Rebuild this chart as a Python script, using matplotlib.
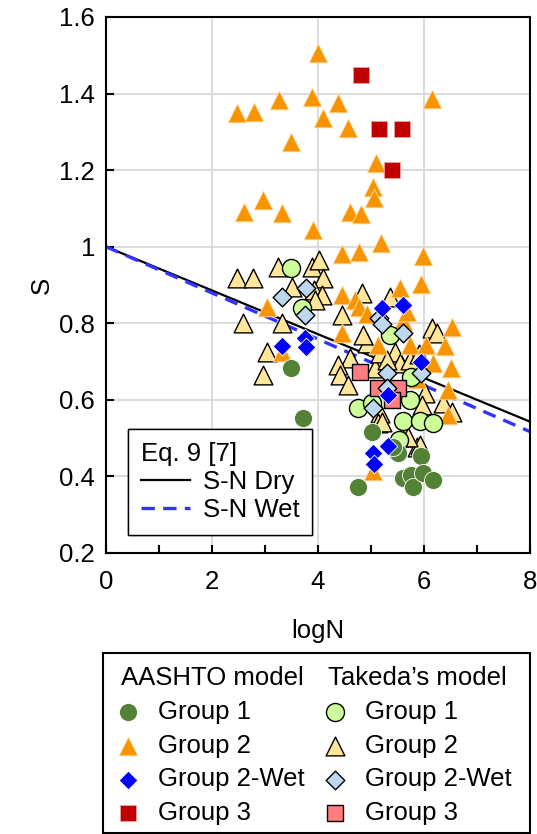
import matplotlib
matplotlib.use("Agg")
import matplotlib.pyplot as plt
from matplotlib.patches import Rectangle

plt.rcParams['font.family'] = ['Liberation Sans', 'DejaVu Sans']
FS = 18.5

# ---------------- data ----------------
a_g1_x = [3.49, 3.72, 5.02, 4.76, 5.51, 5.94, 5.60, 5.75, 5.80, 5.98, 6.17, 5.42]
a_g1_y = [0.683, 0.553, 0.517, 0.373, 0.460, 0.454, 0.396, 0.404, 0.373, 0.409, 0.391, 0.477]

a_g2_x = [4.00, 3.88, 4.37, 4.10, 4.57, 6.15, 2.47, 2.79, 3.26, 3.49,
          5.10, 5.04, 5.06, 4.60, 4.81, 2.60, 2.96, 3.32, 3.90,
          4.45, 4.78, 5.19, 5.98, 5.94, 5.55,
          3.04, 4.45, 4.70, 4.78, 4.92, 4.45, 5.13, 5.60, 5.67, 5.74,
          6.04, 6.53, 6.39, 6.17, 6.50, 6.45, 6.45, 5.87, 5.04, 3.32]
a_g2_y = [1.506, 1.390, 1.375, 1.336, 1.310, 1.386, 1.350, 1.352, 1.383, 1.274,
          1.218, 1.157, 1.128, 1.090, 1.085, 1.090, 1.122, 1.088, 1.044,
          0.980, 0.986, 1.010, 0.975, 0.902, 0.893,
          0.843, 0.874, 0.860, 0.843, 0.825, 0.775, 0.744, 0.805, 0.830, 0.744,
          0.744, 0.790, 0.740, 0.695, 0.682, 0.626, 0.561, 0.655, 0.415, 0.725]

a_g2w_x = [3.32, 3.75, 3.77, 5.20, 5.60, 5.33, 5.94, 5.32, 5.04, 5.05]
a_g2w_y = [0.741, 0.762, 0.737, 0.840, 0.848, 0.613, 0.700, 0.480, 0.461, 0.432]

a_g3_x = [4.81, 5.15, 5.59, 5.40]
a_g3_y = [1.449, 1.307, 1.307, 1.200]

t_g1_x = [3.49, 3.70, 4.76, 5.02, 5.74, 5.60, 5.92, 6.17, 5.53, 5.75, 5.36]
t_g1_y = [0.944, 0.840, 0.579, 0.592, 0.600, 0.545, 0.545, 0.540, 0.496, 0.660, 0.770]

t_g2_x = [2.47, 2.78, 3.25, 3.89, 4.02, 4.10, 3.50, 3.92, 2.58, 3.32, 3.04, 2.96,
          4.07, 3.95, 4.83, 5.36, 4.45, 6.15, 4.92, 5.45, 5.55, 5.74, 4.60, 4.38,
          4.42, 4.57, 5.08, 6.02, 5.96, 6.36, 6.53, 5.17, 5.13, 5.64, 5.87, 6.24,
          5.17, 5.20, 5.92, 5.70, 4.85, 5.30, 5.90]
t_g2_y = [0.918, 0.918, 0.947, 0.947, 0.965, 0.918, 0.895, 0.887, 0.800, 0.800, 0.725, 0.665,
          0.875, 0.860, 0.879, 0.869, 0.822, 0.788, 0.749, 0.725, 0.697, 0.705, 0.710, 0.690,
          0.665, 0.639, 0.683, 0.618, 0.587, 0.592, 0.568, 0.566, 0.540, 0.503, 0.477, 0.775,
          0.723, 0.543, 0.482, 0.503, 0.770, 0.705, 0.720]

t_g2w_x = [3.32, 3.77, 3.75, 5.15, 5.20, 5.60, 5.30, 5.30, 5.94, 5.04]
t_g2w_y = [0.869, 0.892, 0.822, 0.814, 0.797, 0.775, 0.670, 0.632, 0.670, 0.580]

t_g3_x = [4.80, 5.13, 5.50, 5.40]
t_g3_y = [0.673, 0.632, 0.632, 0.600]

line_x = [0, 8]
dry_y = [1.0, 0.543]
wet_y = [1.0, 0.517]

x_ticks = [0, 2, 4, 6, 8]
y_ticks = [0.2, 0.4, 0.6, 0.8, 1.0, 1.2, 1.4, 1.6]
y_labels = ['0.2', '0.4', '0.6', '0.8', '1', '1.2', '1.4', '1.6']

# ---------------- figure ----------------
fig = plt.figure(figsize=(5.37, 8.34), dpi=100)
ax = fig.add_axes([106/537, 1-553/834, (530-106)/537, (553-17)/834])

ax.set_xlim(0, 8)
ax.set_ylim(0.2, 1.6)
ax.grid(True, color='#d9d9d9', linewidth=1.3, zorder=0)
ax.set_axisbelow(True)

dry, = ax.plot(line_x, dry_y, color='black', linewidth=1.6, zorder=2, label='S-N Dry')
wet, = ax.plot(line_x, wet_y, color='#3333ff', linewidth=2.4, linestyle=(0, (4, 2.5)),
               zorder=2, label='S-N Wet')

TRI = 13.5**2
CIR = 13**2
DIA = 9.5**2
SQ = 11**2

h_t2 = ax.scatter(t_g2_x, t_g2_y, marker='^', s=TRI, c='#ffe699', edgecolors='black', linewidths=1.0, zorder=3)
h_a2 = ax.scatter(a_g2_x, a_g2_y, marker='^', s=TRI, c='#f79400', edgecolors='#ffe0b0', linewidths=0.6, zorder=4)
h_t1 = ax.scatter(t_g1_x, t_g1_y, marker='o', s=CIR, c='#ccff99', edgecolors='black', linewidths=1.0, zorder=5)
h_a1 = ax.scatter(a_g1_x, a_g1_y, marker='o', s=CIR, c='#538135', edgecolors='white', linewidths=0.6, zorder=6)
h_t3 = ax.scatter(t_g3_x, t_g3_y, marker='s', s=SQ, c='#ff7c80', edgecolors='black', linewidths=1.0, zorder=7)
h_t2w = ax.scatter(t_g2w_x, t_g2w_y, marker='D', s=DIA, c='#bdd7ee', edgecolors='black', linewidths=1.0, zorder=8)
h_a2w = ax.scatter(a_g2w_x, a_g2w_y, marker='D', s=DIA, c='#0000ff', edgecolors='white', linewidths=0.6, zorder=9)
h_a3 = ax.scatter(a_g3_x, a_g3_y, marker='s', s=SQ, c='#c00000', edgecolors='#f0a0a0', linewidths=0.6, zorder=10)

ax.set_xticks(x_ticks)
ax.set_xticks([1, 3, 5, 7], minor=True)
ax.set_yticks(y_ticks)
ax.set_yticklabels(y_labels)
ax.tick_params(axis='both', which='both', direction='in', length=6, width=1.5,
               labelsize=FS, pad=8)
ax.tick_params(axis='x', which='both', pad=12)
for sp in ax.spines.values():
    sp.set_linewidth(1.5)
    sp.set_color('black')

ax.set_xlabel('logN', fontsize=FS, labelpad=18)
ax.set_ylabel('S', fontsize=FS, labelpad=4)

leg_in = ax.legend(handles=[dry, wet], title='Eq. 9 [7]', loc='lower left',
                   bbox_to_anchor=(0.052, 0.034), fontsize=FS, title_fontsize=FS,
                   alignment='left', handlelength=1.9, handletextpad=0.5,
                   labelspacing=0.15, borderpad=0.5, borderaxespad=0,
                   fancybox=False, edgecolor='black', framealpha=1)
leg_in.get_frame().set_linewidth(1.0)
ax.add_artist(leg_in)

# bottom legend
fig.patches.append(Rectangle((103/537, 1/834), (530-103)/537, (833-653)/834,
                             transform=fig.transFigure, fill=False,
                             edgecolor='black', linewidth=1.5))
common = dict(loc='upper left', bbox_transform=fig.transFigure, frameon=False,
              fontsize=FS, title_fontsize=FS, alignment='left', handlelength=0.55,
              handletextpad=0.9, labelspacing=0.38, borderpad=0, borderaxespad=0,
              markerscale=1.0)
legA = fig.legend([h_a1, h_a2, h_a2w, h_a3], ['Group 1', 'Group 2', 'Group 2-Wet', 'Group 3'],
                  title='AASHTO model', bbox_to_anchor=(121/537, 1-666/834), **common)
legB = fig.legend([h_t1, h_t2, h_t2w, h_t3], ['Group 1', 'Group 2', 'Group 2-Wet', 'Group 3'],
                  title='Takeda\u2019s model', bbox_to_anchor=(328/537, 1-666/834), **common)

fig.savefig('out.png', dpi=100)
